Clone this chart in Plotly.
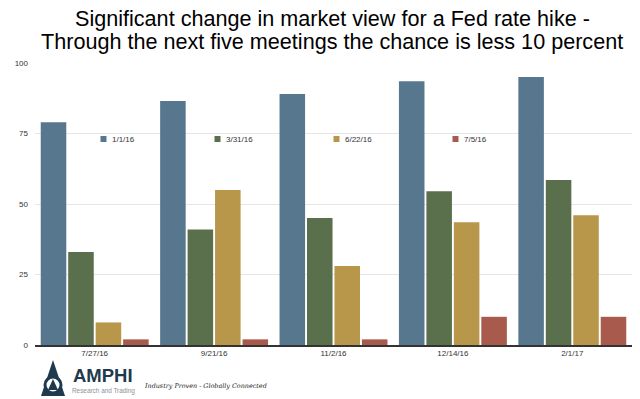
import plotly.graph_objects as go

categories = ["7/27/16", "9/21/16", "11/2/16", "12/14/16", "2/1/17"]
series_names = ["1/1/16", "3/31/16", "6/22/16", "7/5/16"]
s_jan = [79, 86.5, 89, 93.5, 95]
s_mar = [33, 41, 45, 54.5, 58.5]
s_jun = [8, 55, 28, 43.5, 46]
s_jul = [2, 2, 2, 10, 10]
y_ticks = [0, 25, 50, 75, 100]
colors = ["#57778F", "#5A704D", "#B8964A", "#A85B4C"]

title_1 = "Significant change in market view for a Fed rate hike -"
title_2 = "Through the next five meetings the chance is less 10 percent"

FONT = "Liberation Sans, Arial, Helvetica, sans-serif"

# page body has an 8px margin, so the figure origin sits at (8, 8) on screen
PL, PR, PT, PB = 35, 632, 63, 345  # plot area in screen pixels


def px(x):
    return (x - PL) / (PR - PL)


def py(y):
    return (PB - y) / (PB - PT)


fig = go.Figure()
for name, vals, c in zip(series_names, [s_jan, s_mar, s_jun, s_jul], colors):
    fig.add_trace(go.Bar(x=categories, y=vals, name=name, marker_color=c,
                         marker_line_width=0, showlegend=False))

fig.update_layout(
    width=632, height=391,
    margin=dict(l=PL - 8, r=640 - PR, t=PT - 8, b=399 - PB, autoexpand=False),
    paper_bgcolor="white", plot_bgcolor="white",
    barmode="group", bargap=0.08, bargroupgap=0.07,
    font=dict(family=FONT, size=8, color="#333333"),
    showlegend=False,
    xaxis=dict(showgrid=False, showline=True, linecolor="#333333", linewidth=1.5,
               ticks="", tickfont=dict(size=8, color="#333333"), fixedrange=True),
    yaxis=dict(range=[0, 100], tickvals=y_ticks, showgrid=True, gridcolor="#E6E6E6",
               gridwidth=1, zeroline=False, showline=False, ticks="",
               ticklabelstandoff=6,
               tickfont=dict(size=8, color="#333333"), fixedrange=True),
)

# title
for txt, yc in [(title_1, 18), (title_2, 41.5)]:
    fig.add_annotation(text=txt, xref="paper", yref="paper", x=px(332), y=py(yc),
                       xanchor="center", yanchor="middle", showarrow=False,
                       font=dict(family=FONT, size=21.6, color="black"))

# legend (inline, small squares)
leg_x = [103.5, 217.5, 336.5, 455.5]
for name, c, lx in zip(series_names, colors, leg_x):
    fig.add_shape(type="rect", xref="paper", yref="paper",
                  x0=px(lx - 3), x1=px(lx + 3), y0=py(142), y1=py(136),
                  fillcolor=c, line=dict(width=0), layer="above")
    fig.add_annotation(text=name, xref="paper", yref="paper", x=px(lx + 6), y=py(139),
                       xanchor="left", yanchor="middle", showarrow=False,
                       font=dict(family=FONT, size=8, color="#333333"))

# logo text
navy = "#1E3A4C"
fig.add_annotation(text="<b>AMPHI</b>", xref="paper", yref="paper",
                   x=px(71), y=py(375), xanchor="left", yanchor="middle",
                   showarrow=False, font=dict(family=FONT, size=18.5, color=navy))
fig.add_annotation(text="Research and Trading", xref="paper", yref="paper",
                   x=px(70), y=py(390.5), xanchor="left", yanchor="middle",
                   showarrow=False, font=dict(family=FONT, size=6.4, color="#8A9299"))
fig.add_annotation(text="<i>Industry Proven - Globally Connected</i>", xref="paper", yref="paper",
                   x=px(142), y=py(386), xanchor="left", yanchor="middle",
                   showarrow=False, font=dict(family="DejaVu Serif, serif", size=6.4, color="#222222"))

# logo icon
fig.add_shape(type="path", xref="paper", yref="paper",
              path=f"M {px(53)} {py(360)} L {px(65)} {py(396)} L {px(41)} {py(396)} Z",
              fillcolor=navy, line=dict(width=0), layer="above")
fig.add_shape(type="circle", xref="paper", yref="paper",
              x0=px(45), x1=px(61), y0=py(393), y1=py(377),
              fillcolor="white", line=dict(color=navy, width=3), layer="above")
fig.add_shape(type="path", xref="paper", yref="paper",
              path=f"M {px(53)} {py(379)} L {px(58)} {py(390)} L {px(48)} {py(390)} Z",
              fillcolor=navy, line=dict(width=0), layer="above")

fig.write_html("out.html")
